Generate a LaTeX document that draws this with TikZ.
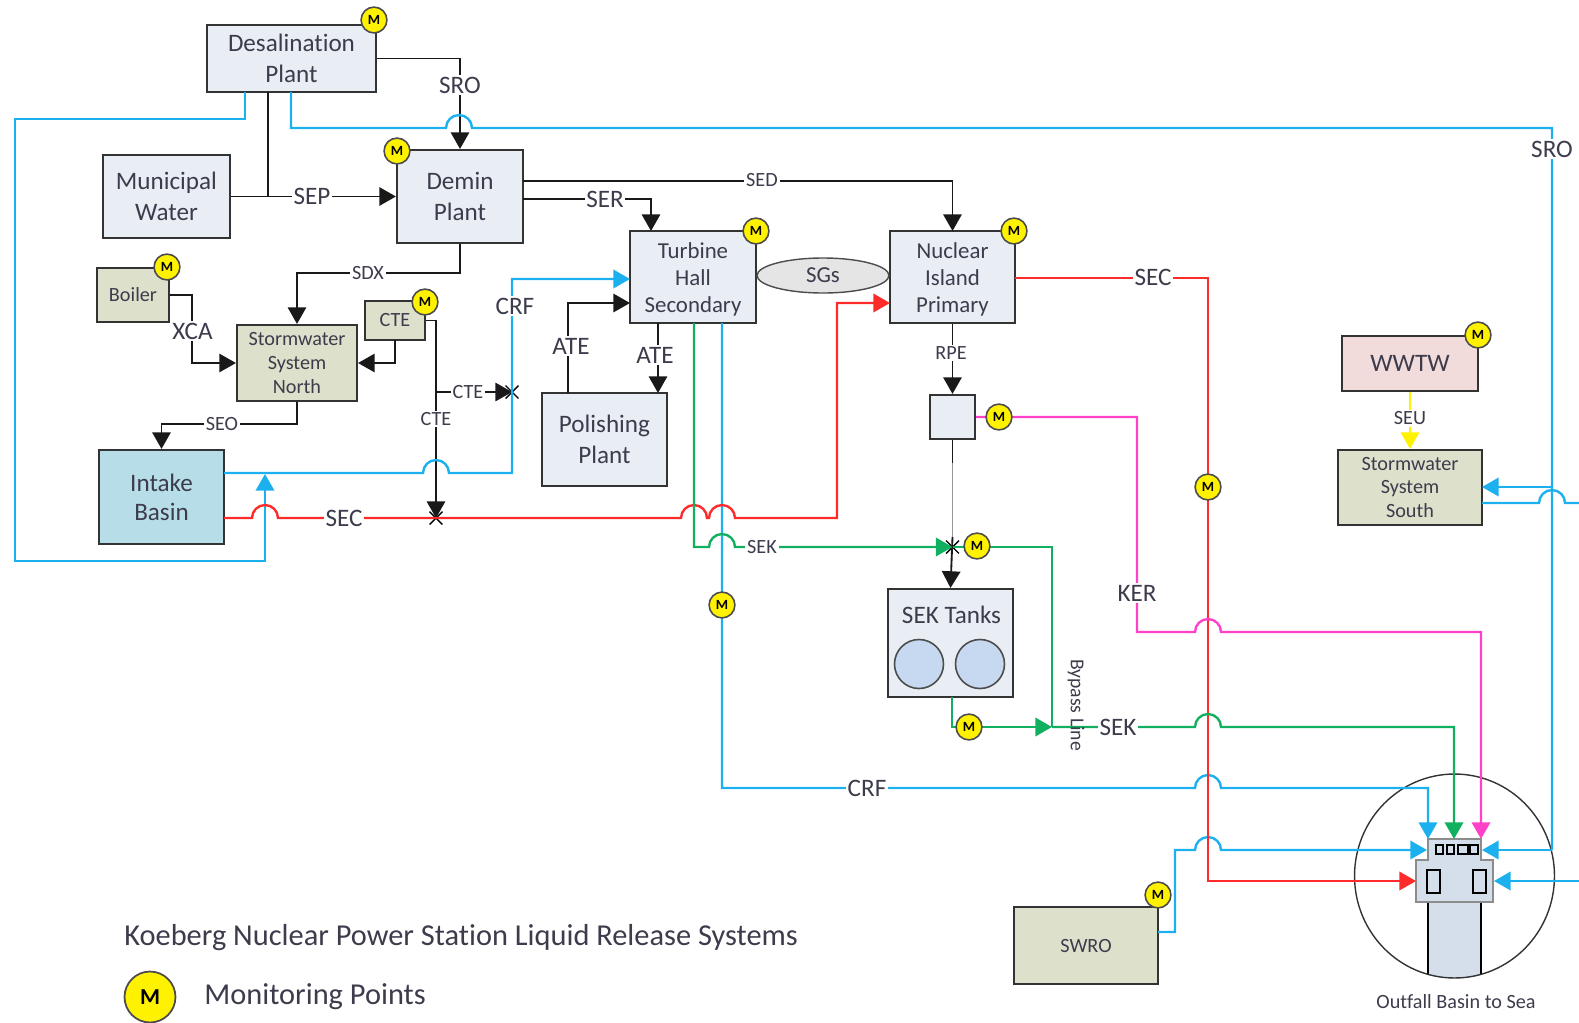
\documentclass[tikz,border=0pt]{standalone}
\usepackage{fontspec}
\setmainfont[Ligatures=NoCommon]{Carlito}
\usepackage{xcolor}
\usepackage{tikz}
\usetikzlibrary{arrows.meta,shapes.geometric,shapes.misc}
\definecolor{boxblue}{HTML}{E9EDF4}
\definecolor{boxgreen}{HTML}{DDE1CB}
\definecolor{boxpink}{HTML}{F2DCDB}
\definecolor{basinblue}{HTML}{B7DDE8}
\definecolor{outfallblue}{HTML}{D5DFEC}
\definecolor{tankblue}{HTML}{C6D9F1}
\definecolor{wireblue}{HTML}{1CB0EE}
\definecolor{wirered}{HTML}{FF2A2A}
\definecolor{wiregreen}{HTML}{10B060}
\definecolor{wirepink}{HTML}{FF40C8}
\definecolor{textgrey}{HTML}{3C3C4C}
\tikzset{
  plantbox/.style={draw=black!80,line width=1.2pt,fill=boxblue,inner sep=0pt,align=center,text=textgrey,font=\fontsize{14.3}{17.6}\selectfont},
  midbox/.style={plantbox,font=\fontsize{13}{15.5}\selectfont},
  smallbox/.style={plantbox,fill=boxgreen,font=\fontsize{11.5}{13.6}\selectfont},
  meter/.style={circle,draw=black!70,line width=0.9pt,fill=yellow,inner sep=0pt,minimum size=14.7pt,font=\bfseries\fontsize{8}{8}\selectfont},
  biglabel/.style={fill=white,inner sep=1pt,text=textgrey,font=\fontsize{14.3}{15}\selectfont},
  tinylabel/.style={fill=white,inner sep=1pt,text=textgrey,font=\fontsize{11.5}{12}\selectfont},
  xmark/.style={cross out,draw=black,line width=0.8pt,inner sep=0pt,minimum size=6.5pt},
  tiparrow/.style={-{Triangle[length=9.5pt,width=10.5pt]}},
  blackwire/.style={draw=black!90,line width=1.05pt},
  bluewire/.style={draw=wireblue,line width=1.35pt},
  redwire/.style={draw=wirered,line width=1.35pt},
  greenwire/.style={draw=wiregreen,line width=1.35pt},
  pinkwire/.style={draw=wirepink,line width=1.35pt},
  yellowwire/.style={draw=yellow,line width=1.35pt}
}
\begin{document}
\begin{tikzpicture}[x=0.02cm,y=-0.02cm]
  \useasboundingbox (0,0) rectangle (1579,1022);
  % plants
  \node[plantbox,minimum width=3.38cm,minimum height=1.34cm] (desal) at (291.5,58.5) {Desalination\\Plant};
  \node[plantbox,minimum width=2.54cm,minimum height=1.66cm] (muni) at (166.5,196.5) {Municipal\\Water};
  \node[plantbox,minimum width=2.52cm,minimum height=1.86cm] (demin) at (460,196.5) {Demin\\Plant};
  \node[midbox,minimum width=2.52cm,minimum height=1.84cm] (turbine) at (693,277) {\rule{0pt}{11.5pt}Turbine\\Hall\\Secondary};
  \node[midbox,minimum width=2.5cm,minimum height=1.84cm] (nuclear) at (952.5,277) {\rule{0pt}{11.5pt}Nuclear\\Island\\Primary};
  \node[draw=black!70,line width=0.8pt,fill=black!10,ellipse,inner sep=0pt,minimum width=2.64cm,minimum height=0.7cm,text=textgrey,font=\fontsize{13}{15}\selectfont] (sgs) at (823,275.5) {SGs};
  \node[smallbox,minimum width=1.44cm,minimum height=1.08cm] (boiler) at (133,295) {Boiler};
  \node[smallbox,minimum width=2.4cm,minimum height=1.52cm] (stormnorth) at (297,363) {Stormwater\\System\\North};
  \node[smallbox,minimum width=1.2cm,minimum height=0.78cm] (cte) at (395,320.5) {CTE};
  \node[plantbox,fill=basinblue,minimum width=2.5cm,minimum height=1.88cm,font=\fontsize{14.3}{16.6}\selectfont] (intake) at (161.5,497) {Intake\\Basin};
  \node[plantbox,minimum width=2.5cm,minimum height=1.86cm] (polish) at (604.5,439.5) {Polishing\\Plant};
  \node[plantbox,minimum width=0.9cm,minimum height=0.88cm] (rpebox) at (952.5,417) {};
  \node[plantbox,minimum width=2.5cm,minimum height=2.16cm] (tanks) at (950.5,643) {};
  \node[draw=black!70,line width=0.9pt,fill=tankblue,circle,inner sep=0pt,minimum size=0.98cm] (tanka) at (919,664) {};
  \node[draw=black!70,line width=0.9pt,fill=tankblue,circle,inner sep=0pt,minimum size=0.98cm] (tankb) at (980,664) {};
  \node[text=textgrey,font=\fontsize{14.3}{15}\selectfont] (tanktext) at (951.5,615) {SEK Tanks};
  \node[plantbox,fill=boxpink,minimum width=2.72cm,minimum height=1.1cm] (wwtw) at (1410,363.5) {WWTW};
  \node[smallbox,minimum width=2.88cm,minimum height=1.5cm] (stormsouth) at (1410,487.5) {Stormwater\\System\\South};
  \node[plantbox,fill=boxgreen,minimum width=2.88cm,minimum height=1.54cm,font=\fontsize{11.5}{13}\selectfont] (swro) at (1086,945.5) {SWRO};
  % outfall structure
  \begin{scope}
    \clip (1454.5,876) ellipse (2cm and 2.04cm);
    \fill[outfallblue] (1428,900) rectangle (1481,990);
    \draw[black,line width=1.1pt] (1428,902) -- (1428,990) (1481,902) -- (1481,990);
  \end{scope}
  \draw[draw=black!45,fill=outfallblue,line width=1.3pt] (1428,839) -- (1481,839) -- (1481,860) -- (1493,860) -- (1493,902) -- (1481,902) -- (1428,902) -- (1416,902) -- (1416,860) -- (1428,860) -- cycle;
  \draw[black,line width=0.9pt] (1436,845) rectangle (1443,854) (1447,845) rectangle (1454,854) (1458,845) rectangle (1468,854) (1470,845) rectangle (1478,854);
  \draw[black,line width=0.9pt] (1427,870) rectangle (1440,893) (1473,870) rectangle (1486,893);
  \node[draw=black!80,line width=0.8pt,ellipse,inner sep=0pt,minimum width=4cm,minimum height=4.08cm] (outfall) at (1454.5,876) {};
  % free ends
  \coordinate (desalleft) at (245,92);
  \coordinate (desalmid) at (268,92);
  \coordinate (desalright) at (291,92);
  \coordinate (muniline) at (268,196.5);
  \coordinate (deminsed) at (523,181);
  \coordinate (deminser) at (523,199);
  \coordinate (nucleartop) at (952.5,231);
  \coordinate (turbinetop) at (651,231);
  \coordinate (turbinecrf) at (630,279);
  \coordinate (turbineate) at (630,303);
  \coordinate (turbinedown) at (658,323);
  \coordinate (turbinegreen) at (694,323);
  \coordinate (turbineblue) at (722,323);
  \coordinate (polishtop) at (658,393);
  \coordinate (polishup) at (568,393);
  \coordinate (nuclearin) at (890,303);
  \coordinate (nuclearout) at (1015,278);
  \coordinate (intakeblue) at (224,473);
  \coordinate (intakered) at (224,518);
  \coordinate (intakehit) at (265,474);
  \coordinate (ctefork) at (436,392);
  \coordinate (ctebelow) at (395,340);
  \coordinate (grayone) at (952.5,463);
  \coordinate (graytwo) at (952.5,537);
  \coordinate (tanksout) at (952,697);
  \coordinate (bypassjoin) at (1052,727);
  \coordinate (swroout) at (1158,932);
  \coordinate (southin) at (1482,487);
  \coordinate (southout) at (1482,503);
  \coordinate (edgesouth) at (1579,503);
  \coordinate (edgeout) at (1579,881);
  \coordinate (outblueone) at (1428,839);
  \coordinate (outgreen) at (1454,839);
  \coordinate (outpink) at (1481,839);
  \coordinate (outblueleft) at (1427,850);
  \coordinate (outblueright) at (1482,850);
  \coordinate (outred) at (1416,881);
  \coordinate (outblueedge) at (1494,881);
  \node[xmark] (xcrf) at (512,392) {};
  \node[xmark] (xsec) at (436,518) {};
  \node[xmark] (xsek) at (952.5,547) {};
  % black lines
  \draw[blackwire,tiparrow] (desal.east) -| (demin.north);
  \draw[blackwire] (desalmid) -- (muniline);
  \draw[blackwire,tiparrow] (muni.east) -- (demin.west);
  \draw[blackwire,tiparrow] (deminsed) -| (nucleartop);
  \draw[blackwire,tiparrow] (deminser) -| (turbinetop);
  \draw[blackwire,tiparrow] (demin.south) -- (460,273) -| (stormnorth.north);
  \draw[blackwire,tiparrow] (boiler.east) -- (192,295) |- (stormnorth.west);
  \draw[blackwire,tiparrow] (ctebelow) |- (stormnorth.east);
  \draw[blackwire,tiparrow] (cte.east) -| (xsec.center);
  \draw[blackwire,tiparrow] (ctefork) -- (xcrf.center);
  \draw[blackwire,tiparrow] (stormnorth.south) -- (297,424) -| (intake.north);
  \draw[blackwire,tiparrow] (polishup) -- (568,303) -- (turbineate);
  \draw[blackwire,tiparrow] (turbinedown) -- (polishtop);
  \draw[blackwire,tiparrow] (nuclear.south) -- (rpebox.north);
  \draw[blackwire] (rpebox.south) -- (grayone);
  \draw[draw=black!40,line width=1.1pt] (grayone) -- (graytwo);
  \draw[blackwire,tiparrow] (graytwo) -- (tanks.north);
  % blue lines
  \draw[bluewire] (desalright) -- (291,128) -- (446,128) arc (180:0:0.26cm) -- (1552,128) -- (1552,850);
  \draw[bluewire,tiparrow] (1552,487) -- (southin);
  \draw[bluewire,tiparrow] (1552,850) -- (outblueright);
  \draw[bluewire,tiparrow] (desalleft) -- (245,119) -- (15,119) -- (15,561) -- (265,561) -- (intakehit);
  \draw[bluewire,tiparrow] (intakeblue) -- (423,473) arc (180:0:0.26cm) -- (512,473) -- (512,279) -- (turbinecrf);
  \draw[bluewire,tiparrow] (turbineblue) -- (722,788) -- (1195,788) arc (180:0:0.26cm) -- (1428,788) -- (outblueone);
  \draw[bluewire,tiparrow] (swroout) -- (1175,932) -- (1175,850) -- (1195,850) arc (180:0:0.26cm) -- (outblueleft);
  \draw[bluewire] (southout) -- (1539,503) arc (180:0:0.26cm) -- (edgesouth);
  \draw[bluewire,tiparrow] (edgeout) -- (outblueedge);
  % red lines
  \draw[redwire,tiparrow] (intakered) -- (252,518) arc (180:0:0.26cm) -- (681,518) arc (180:0:0.26cm) -- (709,518) arc (180:0:0.26cm) -- (837,518) -- (837,303) -- (nuclearin);
  \draw[redwire,tiparrow] (nuclearout) -- (1208,278) -- (1208,881) -- (outred);
  % green lines
  \draw[greenwire,tiparrow] (turbinegreen) -- (694,547) -- (709,547) arc (180:0:0.26cm) -- (xsek.center);
  \draw[greenwire] (xsek.center) -- (1052,547) -- (bypassjoin);
  \draw[greenwire,tiparrow] (tanksout) -- (952,727) -- (bypassjoin);
  \draw[greenwire,tiparrow] (bypassjoin) -- (1195,727) arc (180:0:0.26cm) -- (1454,727) -- (outgreen);
  % pink and yellow
  \draw[pinkwire,tiparrow] (rpebox.east) -- (1137,417) -- (1137,632) -- (1195,632) arc (180:0:0.26cm) -- (1481,632) -- (outpink);
  \draw[yellowwire,tiparrow] (wwtw.south) -- (stormsouth.north);
  % labels on the lines
  \node[biglabel] (lblsroa) at (460,85) {SRO};
  \node[biglabel] (lblsrob) at (1552,149) {SRO};
  \node[biglabel] (lblsep) at (312,196.5) {SEP};
  \node[tinylabel] (lblsed) at (762,180) {SED};
  \node[biglabel] (lblser) at (605,199) {SER};
  \node[tinylabel] (lblsdx) at (368,273) {SDX};
  \node[biglabel] (lblxca) at (192.5,331) {XCA};
  \node[tinylabel] (lblctea) at (468,392) {CTE};
  \node[tinylabel] (lblcteb) at (436,419) {CTE};
  \node[tinylabel] (lblseo) at (222,424) {SEO};
  \node[biglabel] (lblcrfa) at (515,306) {CRF};
  \node[biglabel] (lblseca) at (344,518) {SEC};
  \node[biglabel] (lblatea) at (571,346) {ATE};
  \node[biglabel] (lblateb) at (655,355) {ATE};
  \node[tinylabel] (lblseka) at (762,547) {SEK};
  \node[biglabel] (lblcrfb) at (867,788) {CRF};
  \node[tinylabel] (lblrpe) at (951,353) {RPE};
  \node[biglabel] (lblker) at (1137,593) {KER};
  \node[biglabel] (lblsecb) at (1153,277) {SEC};
  \node[biglabel] (lblsekb) at (1118,727) {SEK};
  \node[tinylabel] (lblseu) at (1410,418.5) {SEU};
  \node[text=textgrey,rotate=-90,inner sep=0pt,font=\fontsize{11.2}{12}\selectfont] (lblbypass) at (1076,705) {Bypass Line};
  % monitoring points
  \node[meter] (mdesal) at (374,20) {M};
  \node[meter] (mdemin) at (397,151) {M};
  \node[meter] (mturbine) at (756,231) {M};
  \node[meter] (mnuclear) at (1014,231) {M};
  \node[meter] (mboiler) at (167,267) {M};
  \node[meter] (mcte) at (425,302) {M};
  \node[meter] (mrpe) at (999,417) {M};
  \node[meter] (msec) at (1208,487) {M};
  \node[meter] (mcrf) at (722,605) {M};
  \node[meter] (msek) at (977,546) {M};
  \node[meter] (mtanks) at (969,727) {M};
  \node[meter] (mwwtw) at (1478,335) {M};
  \node[meter] (mswro) at (1158,895) {M};
  % legend
  \node[anchor=west,inner sep=0pt,text=textgrey,font=\fontsize{17.3}{19}\selectfont] (title) at (124,938) {Koeberg Nuclear Power Station Liquid Release Systems};
  \node[meter,minimum size=29pt,line width=1pt,font=\bfseries\fontsize{13}{13}\selectfont] (mlegend) at (150,997) {M};
  \node[anchor=west,inner sep=0pt,text=textgrey,font=\fontsize{17.3}{19}\selectfont] (legendtext) at (204,997) {Monitoring Points};
  \node[text=textgrey,inner sep=0pt,font=\fontsize{11.5}{12}\selectfont] (outfalltext) at (1456,1002) {Outfall Basin to Sea};
\end{tikzpicture}
\end{document}
